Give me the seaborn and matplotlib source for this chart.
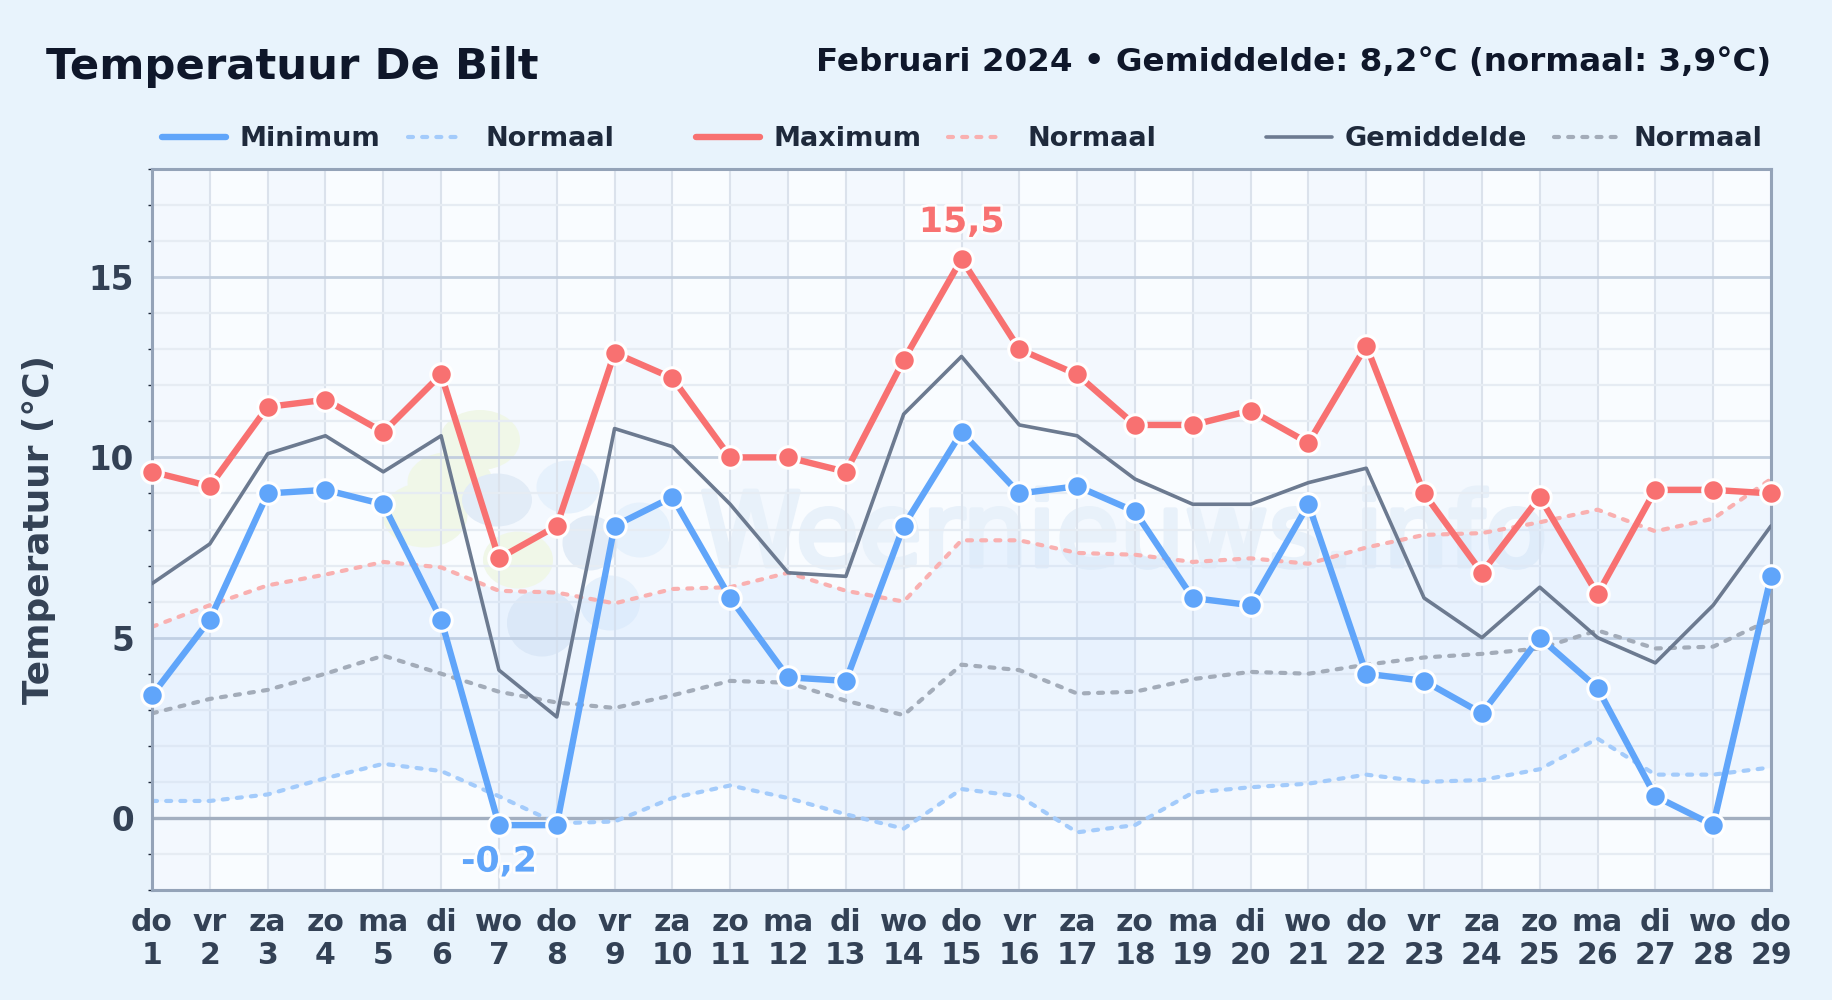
import matplotlib
matplotlib.use('Agg')
import matplotlib.pyplot as plt
import matplotlib.patheffects as pe
import seaborn as sns
from matplotlib.lines import Line2D
from matplotlib.patches import Ellipse
from matplotlib.ticker import MultipleLocator
from matplotlib.transforms import IdentityTransform

# Data
days = list(range(1, 30))
weekdays = ['do', 'vr', 'za', 'zo', 'ma', 'di', 'wo'] * 4 + ['do']
temp_min = [3.4, 5.5, 9.0, 9.1, 8.7, 5.5, -0.2, -0.2, 8.1, 8.9, 6.1, 3.9, 3.8, 8.1, 10.7,
            9.0, 9.2, 8.5, 6.1, 5.9, 8.7, 4.0, 3.8, 2.9, 5.0, 3.6, 0.6, -0.2, 6.7]
temp_max = [9.6, 9.2, 11.4, 11.6, 10.7, 12.3, 7.2, 8.1, 12.9, 12.2, 10.0, 10.0, 9.6, 12.7, 15.5,
            13.0, 12.3, 10.9, 10.9, 11.3, 10.4, 13.1, 9.0, 6.8, 8.9, 6.2, 9.1, 9.1, 9.0]
temp_mean = [6.5, 7.6, 10.1, 10.6, 9.6, 10.6, 4.1, 2.8, 10.8, 10.3, 8.7, 6.8, 6.7, 11.2, 12.8,
             10.9, 10.6, 9.4, 8.7, 8.7, 9.3, 9.7, 6.1, 5.0, 6.4, 5.0, 4.3, 5.9, 8.1]
normal_min = [0.47, 0.47, 0.65, 1.1, 1.5, 1.3, 0.6, -0.15, -0.1, 0.55, 0.9, 0.55, 0.1, -0.3, 0.8,
              0.6, -0.4, -0.2, 0.7, 0.85, 0.95, 1.2, 1.0, 1.05, 1.35, 2.2, 1.2, 1.2, 1.4]
normal_max = [5.3, 5.9, 6.45, 6.75, 7.1, 6.95, 6.3, 6.25, 5.95, 6.35, 6.4, 6.8, 6.3, 6.0, 7.7,
              7.7, 7.35, 7.3, 7.1, 7.2, 7.05, 7.5, 7.85, 7.9, 8.2, 8.55, 7.95, 8.3, 9.4]
normal_mean = [2.9, 3.3, 3.55, 4.0, 4.5, 4.0, 3.5, 3.2, 3.05, 3.4, 3.8, 3.75, 3.25, 2.85, 4.25,
               4.1, 3.45, 3.5, 3.85, 4.05, 4.0, 4.25, 4.45, 4.55, 4.7, 5.2, 4.7, 4.75, 5.5]

BLUE = '#60a5fa'
RED = '#f87171'
GREY = '#6c7a90'
BLUE_N = '#a3cbfb'
RED_N = '#f9b0b0'
GREY_N = '#a3acb9'
DASH = (0, (1.2, 2.2))

W, H = 1832, 1000
sns.set_theme(style='white')
plt.rcParams['font.family'] = ['DejaVu Sans']

fig = plt.figure(figsize=(W / 100, H / 100), dpi=100, facecolor='#e8f3fc')
ax = fig.add_axes([152 / W, 1 - 890 / H, (1771 - 152) / W, (890 - 169) / H], facecolor='#f9fcff')

# Alternating day bands and the band between normal min and max
for d in days[:-1:2]:
    ax.axvspan(d, d + 1, color='#dbeafe', alpha=0.18, lw=0, zorder=0)
ax.fill_between(days, normal_min, normal_max, color='#bfdbfe', alpha=0.2, lw=0, zorder=0.6)

# Watermark logo and name (pixel positions, decoration only)
logo = [(480, 440, 80, 60, '#f0f7e8'), (450, 482, 85, 60, '#f0f7e8'), (425, 515, 85, 65, '#f0f7e8'),
        (518, 560, 70, 57, '#f0f7e8'),
        (568, 487, 63, 53, '#e6f1fc'), (640, 530, 60, 55, '#e6f1fc'), (610, 603, 60, 55, '#e6f1fc'),
        (497, 500, 70, 53, '#e2ecf7'), (590, 543, 55, 55, '#e2ecf7'), (542, 623, 70, 67, '#e2ecf7')]
for px, py, w, h, c in logo:
    ax.add_patch(Ellipse((px, H - py), w, h, transform=IdentityTransform(), fc=c, ec='none', zorder=0.2))
ax.text(700 / W, 1 - 566 / H, 'Weernieuws.info', transform=fig.transFigure, fontsize=74, color='#e8f1fa',
        path_effects=[pe.withStroke(linewidth=3.5, foreground='#e8f1fa')], zorder=0.2)

# Series
sns.lineplot(x=days, y=normal_min, ax=ax, color=BLUE_N, linewidth=3, linestyle=DASH,
             dash_capstyle='round', errorbar=None, zorder=2)
sns.lineplot(x=days, y=normal_max, ax=ax, color=RED_N, linewidth=3, linestyle=DASH,
             dash_capstyle='round', errorbar=None, zorder=2)
sns.lineplot(x=days, y=normal_mean, ax=ax, color=GREY_N, linewidth=3, linestyle=DASH,
             dash_capstyle='round', errorbar=None, zorder=2)
sns.lineplot(x=days, y=temp_mean, ax=ax, color=GREY, linewidth=2.6, errorbar=None, zorder=3)
sns.lineplot(x=days, y=temp_min, ax=ax, color=BLUE, linewidth=4.6, marker='o', markersize=15.5,
             markeredgecolor='white', markeredgewidth=2.2, errorbar=None, zorder=4, clip_on=False)
sns.lineplot(x=days, y=temp_max, ax=ax, color=RED, linewidth=4.6, marker='o', markersize=15.5,
             markeredgecolor='white', markeredgewidth=2.2, errorbar=None, zorder=5, clip_on=False)

# Extreme labels
halo = [pe.withStroke(linewidth=4, foreground='white', alpha=0.85)]
i_max = temp_max.index(max(temp_max))
i_min = temp_min.index(min(temp_min))
ax.annotate(f'{temp_max[i_max]:.1f}'.replace('.', ','), (days[i_max], temp_max[i_max]), xytext=(0, 14.5),
            textcoords='offset points', ha='center', va='bottom', fontsize=25, fontweight='bold',
            color=RED, path_effects=halo, zorder=6)
ax.annotate(f'{temp_min[i_min]:.1f}'.replace('.', ','), (days[i_min], temp_min[i_min]), xytext=(0, -14),
            textcoords='offset points', ha='center', va='top', fontsize=25, fontweight='bold',
            color=BLUE, path_effects=halo, zorder=6)

# Axes
ax.set_xlim(1, 29)
ax.set_ylim(-2, 18)
ax.set_xticks(days)
ax.set_xticklabels([f'{w}\n{d}' for w, d in zip(weekdays, days)], fontsize=21.5, fontweight='bold',
                   color='#334155', linespacing=1.15)
ax.yaxis.set_major_locator(MultipleLocator(5))
ax.yaxis.set_minor_locator(MultipleLocator(1))
ax.tick_params(axis='x', which='major', length=0, pad=13)
ax.tick_params(axis='y', which='major', length=0, pad=13, labelsize=23.5, labelcolor='#334155')
ax.tick_params(axis='y', which='minor', left=True, length=3, width=1, color='#1e293b')
for lab in ax.get_yticklabels():
    lab.set_fontweight('bold')

ax.set_axisbelow(True)
ax.grid(True, which='major', axis='x', color='#dbe2ec', linewidth=1.5)
ax.grid(True, which='major', axis='y', color='#c2cede', linewidth=2)
ax.grid(True, which='minor', axis='y', color='#e6ecf3', linewidth=1.6)
ax.axhline(0, color='#a3afc0', linewidth=2.4, zorder=1.5)

for spine in ax.spines.values():
    spine.set_color('#94a3b8')
    spine.set_linewidth(2.2)

fig.text(39 / W, 1 - 529 / H, 'Temperatuur (°C)', rotation=90, ha='center', va='center', fontsize=25.8,
         fontweight='bold', color='#334155')

# Titles
fig.text(46 / W, 1 - 67 / H, 'Temperatuur De Bilt', ha='left', va='center', fontsize=31.2, fontweight='bold',
         color='#0f172a')
fig.text(1771 / W, 1 - 62 / H, 'Februari 2024 • Gemiddelde: 8,2°C (normaal: 3,9°C)', ha='right', va='center',
         fontsize=23.4, fontweight='bold', color='#0f172a')

# Legend placed by hand, the gaps in the original are uneven
legend_items = [
    (162, 226, 240, 'Minimum', BLUE, 4.6, '-'),
    (408, 464, 486, 'Normaal', BLUE_N, 3, DASH),
    (696, 760, 773, 'Maximum', RED, 4.6, '-'),
    (948, 1004, 1027, 'Normaal', RED_N, 3, DASH),
    (1266, 1332, 1345, 'Gemiddelde', GREY, 2.6, '-'),
    (1554, 1618, 1633, 'Normaal', GREY_N, 3, DASH),
]
for x0, x1, xt, label, c, lw, ls in legend_items:
    fig.add_artist(Line2D([x0 / W, x1 / W], [1 - 137 / H] * 2, color=c, linewidth=lw, linestyle=ls,
                          solid_capstyle='round', dash_capstyle='round'))
    fig.text(xt / W, 1 - 139 / H, label, ha='left', va='center', fontsize=19.5, fontweight='bold',
             color='#1e293b')

fig.savefig('out.png', dpi=100, facecolor=fig.get_facecolor())
